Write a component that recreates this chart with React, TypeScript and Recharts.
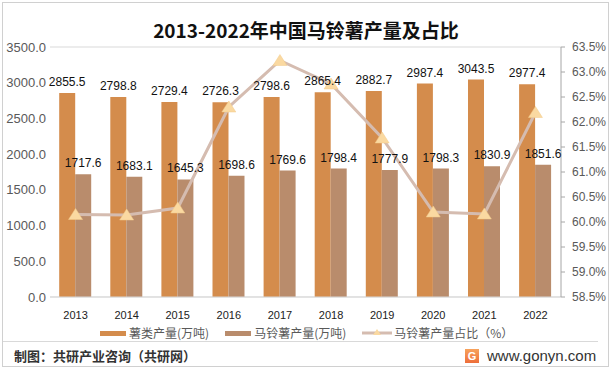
import { Bar, ComposedChart, CartesianGrid, LabelList, Line, XAxis, YAxis } from "recharts"

const years = ["2013", "2014", "2015", "2016", "2017", "2018", "2019", "2020", "2021", "2022"]
const tuberOutput = [2855.5, 2798.8, 2729.4, 2726.3, 2798.6, 2865.4, 2882.7, 2987.4, 3043.5, 2977.4]
const potatoOutput = [1717.6, 1683.1, 1645.3, 1698.6, 1769.6, 1798.4, 1777.9, 1798.3, 1830.9, 1851.6]
const potatoShare = [60.15, 60.14, 60.28, 62.3, 63.23, 62.76, 61.68, 60.2, 60.16, 62.19]

const leftTicks = [0, 500, 1000, 1500, 2000, 2500, 3000, 3500]
const rightTicks = [58.5, 59, 59.5, 60, 60.5, 61, 61.5, 62, 62.5, 63, 63.5]

const ORANGE = "#D48C4C"
const BROWN = "#B98C6C"
const LINE = "#D5BCB0"
const MARK = "#FAD9A1"
const FONT = '"Liberation Sans", "Noto Sans CJK SC", sans-serif'
const CJK = '"Noto Sans CJK SC", "Liberation Sans", sans-serif'

const data = years.map((year, i) => ({
  year,
  tuber: tuberOutput[i],
  potato: potatoOutput[i],
  share: potatoShare[i],
}))

function Triangle(props: any) {
  const { cx, cy } = props
  if (cx == null || cy == null) return null
  return (
    <polygon
      points={`${cx},${cy - 6} ${cx - 7},${cy + 5} ${cx + 7},${cy + 5}`}
      fill={MARK}
      stroke="#F3CB8A"
      strokeWidth={0.5}
    />
  )
}

function LegendItem({ color, label, line }: { color: string; label: string; line?: boolean }) {
  return (
    <div style={{ display: "flex", alignItems: "center", marginRight: 16 }}>
      {line ? (
        <svg width={30} height={10} style={{ marginRight: 2 }}>
          <line x1={0} y1={5} x2={30} y2={5} stroke={LINE} strokeWidth={3} />
          <polygon points="15,1 11,7 19,7" fill={MARK} />
        </svg>
      ) : (
        <div style={{ width: 26, height: 5, background: color, marginRight: 3 }} />
      )}
      <span>{label}</span>
    </div>
  )
}

export default function App() {
  return (
    <div
      style={{
        position: "absolute",
        left: 0,
        top: 0,
        width: 612,
        height: 370,
        background: "#fff",
        fontFamily: FONT,
      }}
    >
      <div
        style={{
          position: "absolute",
          left: 2,
          top: 2,
          width: 605,
          height: 363,
          border: "1px solid #D0D0D0",
        }}
      />
      <div
        style={{
          position: "absolute",
          left: 0,
          top: 16,
          width: 612,
          textAlign: "center",
          fontFamily: CJK,
          fontWeight: 700,
          fontSize: 19,
          color: "#111",
        }}
      >
        2013-2022年中国马铃薯产量及占比
      </div>

      <ComposedChart
        width={612}
        height={370}
        data={data}
        margin={{ top: 47, right: 3, bottom: 53, left: 4 }}
        barCategoryGap="18%"
        barGap={0}
        style={{ position: "absolute", left: 0, top: 0 }}
      >
        <CartesianGrid vertical={false} stroke="#D9D9D9" />
        <XAxis
          dataKey="year"
          height={20}
          axisLine={{ stroke: "#D9D9D9" }}
          tickLine={false}
          tick={{ fontSize: 11, fill: "#222", fontFamily: FONT }}
          tickMargin={8}
        />
        <YAxis
          yAxisId="left"
          width={46}
          domain={[0, 3500]}
          ticks={leftTicks}
          axisLine={false}
          tickLine={false}
          tickSize={0}
          tickMargin={4}
          tickFormatter={(v: number) => v.toFixed(1)}
          tick={{ fontSize: 13, fill: "#595959", fontFamily: FONT }}
        />
        <YAxis
          yAxisId="right"
          orientation="right"
          width={48}
          domain={[58.5, 63.5]}
          ticks={rightTicks}
          axisLine={{ stroke: "#A6A6A6" }}
          tickLine={{ stroke: "#A6A6A6" }}
          tickSize={4}
          tickMargin={7}
          tickFormatter={(v: number) => v.toFixed(1) + "%"}
          tick={{ fontSize: 12, fill: "#595959", fontFamily: FONT }}
        />
        <Bar yAxisId="left" dataKey="tuber" fill={ORANGE} isAnimationActive={false}>
          <LabelList
            dataKey="tuber"
            position="top"
            offset={7}
            formatter={(v: any) => Number(v).toFixed(1)}
            style={{ fontSize: 12, fill: "#111", fontFamily: FONT }}
          />
        </Bar>
        <Bar yAxisId="left" dataKey="potato" fill={BROWN} isAnimationActive={false}>
          <LabelList
            dataKey="potato"
            position="top"
            offset={7}
            formatter={(v: any) => Number(v).toFixed(1)}
            style={{ fontSize: 12, fill: "#111", fontFamily: FONT }}
          />
        </Bar>
        <Line
          yAxisId="right"
          dataKey="share"
          stroke={LINE}
          strokeWidth={3}
          dot={<Triangle />}
          activeDot={false}
          isAnimationActive={false}
        />
      </ComposedChart>

      <div
        style={{
          position: "absolute",
          left: 100,
          top: 325,
          display: "flex",
          fontFamily: CJK,
          fontSize: 12,
          color: "#595959",
          lineHeight: "16px",
        }}
      >
        <LegendItem color={ORANGE} label="薯类产量(万吨)" />
        <LegendItem color={BROWN} label="马铃薯产量(万吨)" />
        <LegendItem color={LINE} label="马铃薯产量占比（%）" line />
      </div>

      <div style={{ position: "absolute", left: 3, top: 341, width: 595, height: 1, background: "#D9D9D9" }} />
      <div
        style={{
          position: "absolute",
          left: 14,
          top: 346,
          fontFamily: CJK,
          fontWeight: 700,
          fontSize: 13,
          color: "#333",
        }}
      >
        制图：共研产业咨询（共研网）
      </div>
      <div style={{ position: "absolute", left: 465, top: 347, display: "flex", alignItems: "center" }}>
        <div
          style={{
            width: 14,
            height: 14,
            background: "linear-gradient(#F7A35C, #EE6E3A)",
            color: "#fff",
            fontSize: 11,
            fontWeight: 700,
            lineHeight: "14px",
            textAlign: "center",
            fontFamily: FONT,
          }}
        >
          G
        </div>
        <span style={{ marginLeft: 8, fontSize: 15, color: "#333", fontFamily: FONT }}>www.gonyn.com</span>
      </div>
    </div>
  )
}
